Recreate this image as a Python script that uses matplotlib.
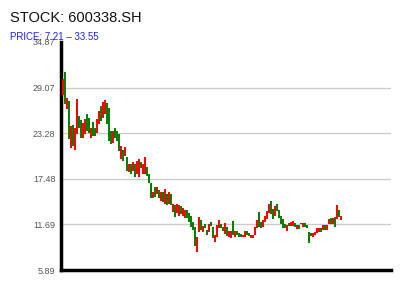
import matplotlib
matplotlib.use('Agg')
import matplotlib.pyplot as plt

plt.rcParams['font.family'] = ['Liberation Sans', 'DejaVu Sans']

ticker_name = "600338.SH"
price_low = 7.21
price_high = 33.55
y_ticks = [5.89, 11.69, 17.48, 23.28, 29.07, 34.87]

# daily open / close
opens = [28.1, 31.0, 26.3, 27.4, 21.4, 24.3, 21.2, 23.2, 25.5, 24.9,
         22.7, 23.2, 25.7, 25.2, 22.7, 24.7, 23.9, 23.3, 24.5, 26.7,
         25.2, 25.7, 27.1, 26.5, 23.6, 22.0, 24.0, 23.6, 23.2, 20.0,
         21.1, 20.4, 20.3, 18.3, 19.4, 18.5, 19.4, 18.1, 17.7, 19.6,
         18.1, 18.1, 19.0, 18.1, 17.0, 15.0, 16.4, 15.6, 16.0, 14.7,
         15.8, 14.3, 15.6, 14.3, 15.6, 13.3, 14.1, 13.1, 12.8, 14.0,
         12.8, 12.5, 13.5, 13.1, 12.8, 12.0, 11.3, 8.2, 10.7, 12.2,
         10.7, 11.8, 11.0, 10.7, 12.0, 11.4, 9.5, 10.1, 11.2, 11.8,
         11.4, 10.5, 11.4, 10.1, 9.9, 12.1, 10.1, 10.9, 10.6, 10.5,
         10.1, 10.1, 10.8, 10.6, 9.9, 10.0, 10.3, 11.2, 13.3, 12.0,
         11.4, 12.0, 12.4, 13.1, 14.6, 13.6, 12.8, 14.3, 13.5, 12.8,
         12.4, 11.8, 10.9, 11.9, 11.5, 11.5, 11.9, 11.1, 11.6, 11.9,
         11.4, 11.9, 11.6, 10.7, 10.6, 10.1, 10.3, 10.6, 10.7, 11.2,
         11.0, 11.6, 11.0, 11.7, 12.5, 11.8, 12.6, 12.4, 13.5, 12.3]
closes = [30.2, 27.0, 27.7, 22.6, 24.2, 21.7, 23.9, 27.6, 24.0, 22.7,
          24.6, 25.1, 23.6, 23.3, 23.9, 22.9, 22.9, 25.1, 26.1, 24.8,
          27.3, 27.5, 24.5, 22.3, 21.9, 23.6, 22.7, 22.3, 21.0, 21.7,
          19.8, 21.5, 18.5, 19.4, 18.1, 19.6, 17.7, 19.8, 20.0, 18.8,
          19.4, 20.2, 17.9, 16.9, 15.0, 15.8, 15.2, 16.4, 15.0, 15.8,
          14.5, 16.2, 14.2, 15.8, 14.1, 14.3, 12.6, 14.3, 14.2, 13.0,
          13.8, 13.5, 12.5, 12.0, 11.3, 11.0, 9.0, 10.1, 12.6, 11.0,
          11.5, 11.2, 10.3, 11.8, 11.5, 9.9, 10.3, 11.6, 12.2, 11.2,
          10.9, 11.9, 10.2, 10.8, 10.8, 10.3, 10.9, 10.3, 10.1, 10.1,
          10.3, 10.9, 10.3, 10.2, 10.3, 10.4, 11.4, 12.2, 11.4, 11.2,
          12.2, 12.8, 13.4, 14.3, 13.0, 12.4, 14.0, 13.4, 12.5, 11.8,
          11.2, 11.2, 11.6, 11.5, 12.0, 12.1, 11.3, 11.6, 11.1, 11.7,
          11.9, 11.4, 11.2, 9.3, 10.2, 10.6, 10.7, 11.2, 11.2, 10.7,
          11.6, 11.0, 11.6, 12.4, 11.8, 12.5, 11.4, 14.1, 12.6, 12.8]

fig = plt.figure(figsize=(4, 3), dpi=100)
ax = fig.add_axes([0.1525, 0.1, 0.825, 0.76])

days = list(range(len(opens)))
colors = ['#ff0000' if c >= o else '#008000' for o, c in zip(opens, closes)]
heights = [c - o for o, c in zip(opens, closes)]
ax.bar(days, heights, bottom=opens, width=0.6, color=colors, linewidth=0,
       antialiased=False, zorder=3)

ax.set_xlim(-1, 164)
ax.set_ylim(y_ticks[0], y_ticks[-1])
ax.set_xticks([])
ax.set_yticks(y_ticks)
ax.set_yticklabels([f'{v:.2f}' for v in y_ticks], fontsize=6.5, color='#555555')
ax.tick_params(axis='y', length=0, pad=4)
for v in y_ticks[1:-1]:
    ax.axhline(v, color='#cccccc', linewidth=1, zorder=1)

ax.spines['top'].set_visible(False)
ax.spines['right'].set_visible(False)
ax.spines['left'].set_linewidth(2.5)
ax.spines['bottom'].set_linewidth(2.5)
ax.spines['left'].set_color('black')
ax.spines['bottom'].set_color('black')

fig.text(0.025, 0.94, f'STOCK: {ticker_name}', fontsize=10.5, color='#111111', va='center', ha='left')
fig.text(0.025, 0.875, f'PRICE: {price_low} \u2013 {price_high}', fontsize=7, color='#2020ff', va='center', ha='left')

fig.savefig('out.png', dpi=100)
